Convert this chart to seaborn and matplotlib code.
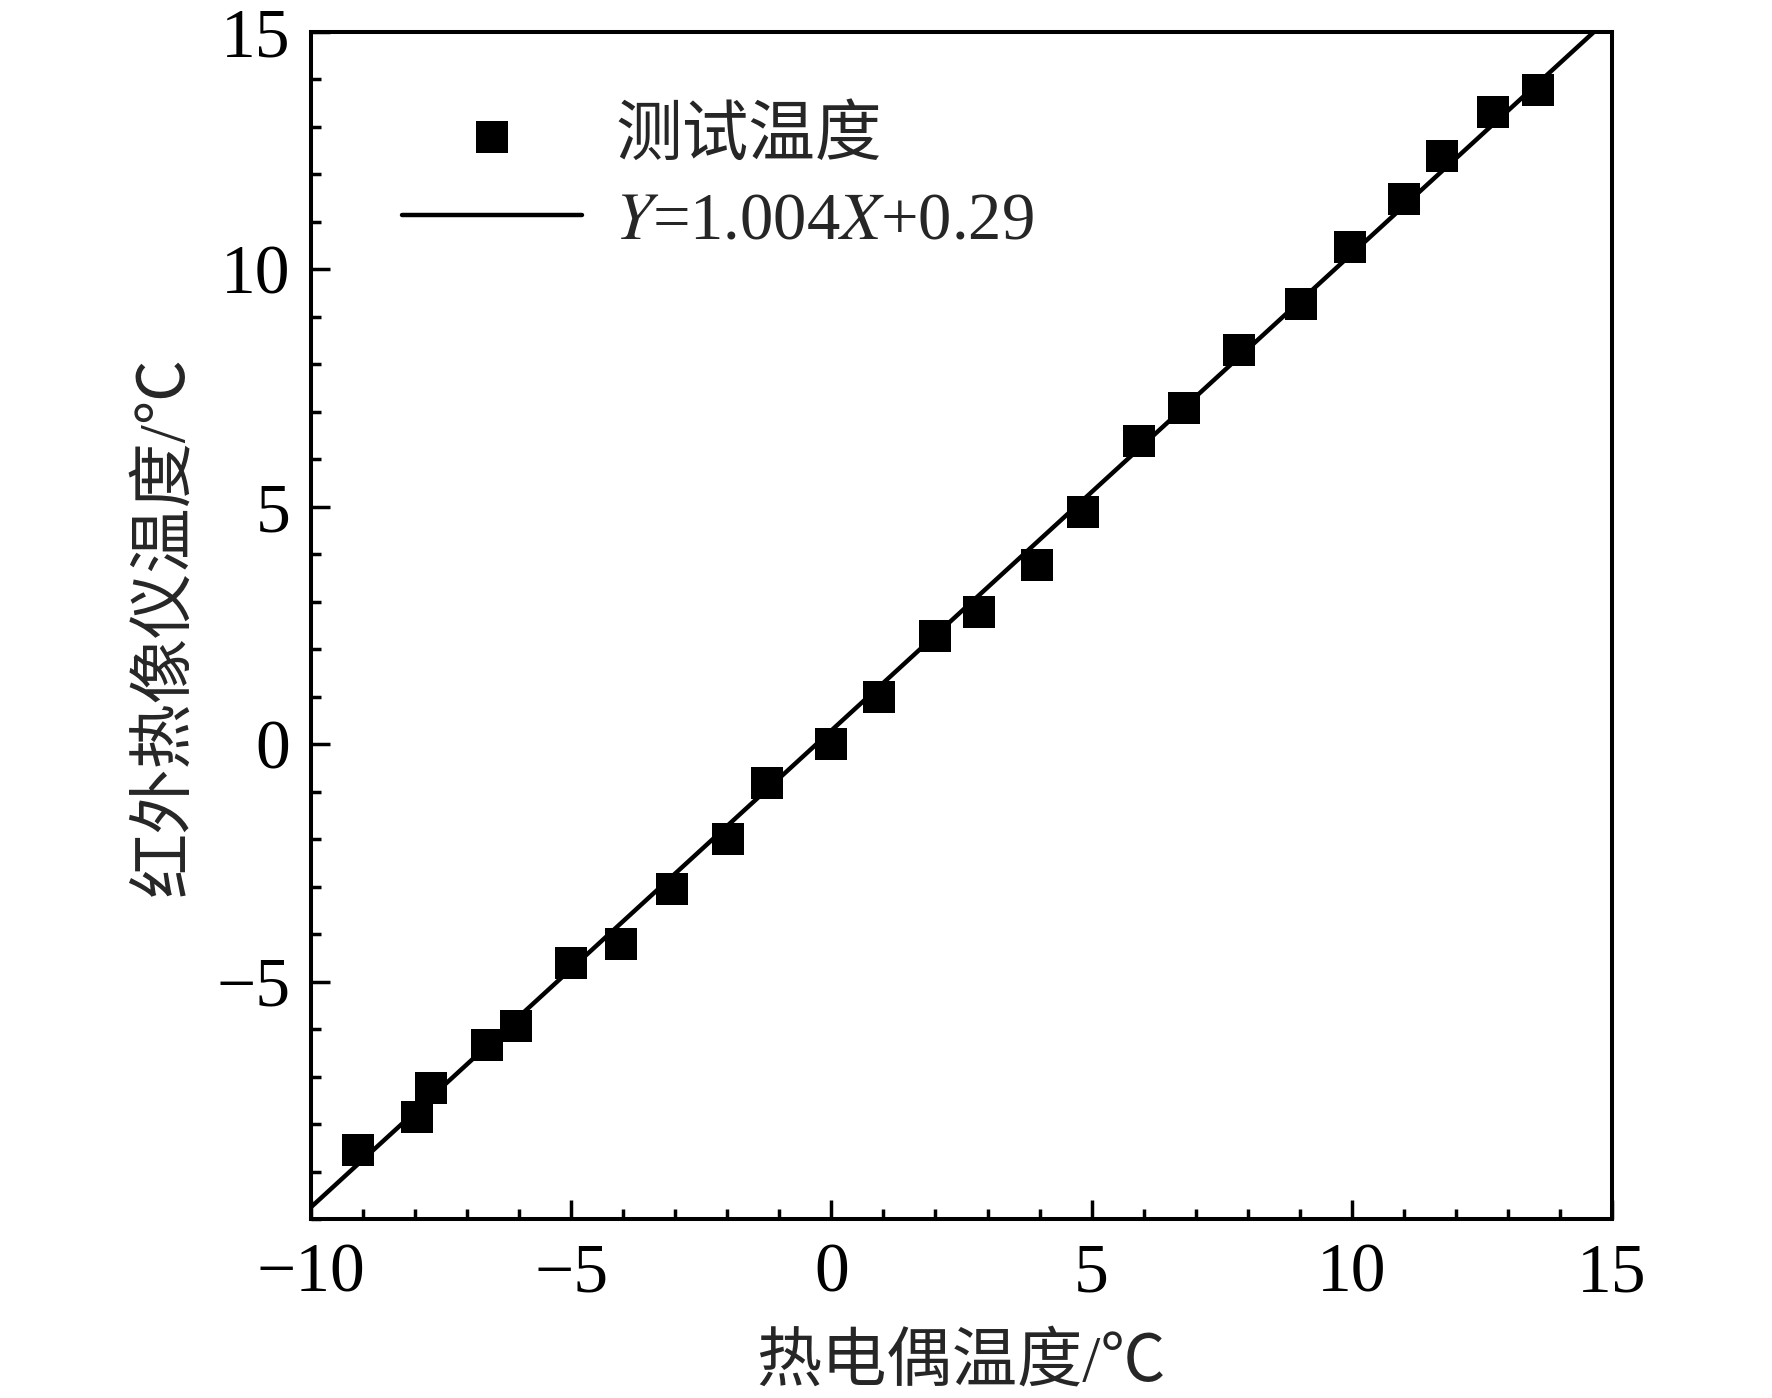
import numpy as np
import pandas as pd
import matplotlib
matplotlib.use("Agg")
import matplotlib.pyplot as plt
import seaborn as sns
from matplotlib.ticker import MultipleLocator

# thermocouple reading vs infrared camera reading
tc_temp = [-9.1, -7.97, -7.7, -6.62, -6.06, -5.0, -4.04, -3.06, -1.98, -1.23, 0.0,
           0.92, 2.0, 2.83, 3.96, 4.83, 5.91, 6.77, 7.83, 9.03, 9.97, 11.01, 11.74,
           12.72, 13.57]
ir_temp = [-8.55, -7.86, -7.25, -6.34, -5.94, -4.61, -4.21, -3.05, -2.0, -0.82, 0.0,
           0.99, 2.27, 2.78, 3.77, 4.89, 6.38, 7.08, 8.3, 9.27, 10.47, 11.48, 12.38,
           13.31, 13.77]
fit_slope = 1.004
fit_intercept = 0.29
fit_x = [-10, 15]

df = pd.DataFrame({"tc": tc_temp, "ir": ir_temp})
fit = pd.DataFrame({"x": fit_x})
fit["y"] = fit_slope * fit["x"] + fit_intercept

sns.set_style("ticks")
plt.rcParams['font.family'] = ['Liberation Serif', 'Noto Sans CJK SC']
plt.rcParams['mathtext.fontset'] = 'stix'
plt.rcParams['axes.unicode_minus'] = True

fig = plt.figure(figsize=(17.72, 13.98), dpi=100)
ax = fig.add_axes([0.1755, 0.1280, 0.7342, 0.8491])

sns.scatterplot(data=df, x="tc", y="ir", marker="s", s=560, color="black",
                linewidth=0, ax=ax, label="测试温度", zorder=3)
sns.lineplot(data=fit, x="x", y="y", color="black", linewidth=3.2, ax=ax,
             label=r"$Y$=1.004$X$+0.29", zorder=2)

ax.set_xlim(-10, 15)
ax.set_ylim(-10, 15)
ax.xaxis.set_major_locator(MultipleLocator(5))
ax.yaxis.set_major_locator(MultipleLocator(5))
ax.xaxis.set_minor_locator(MultipleLocator(1))
ax.yaxis.set_minor_locator(MultipleLocator(1))
ax.set_yticks([-5, 0, 5, 10, 15])

ax.tick_params(which="both", direction="in", top=False, right=False,
               width=2.5, labelsize=50, colors="black")
ax.tick_params(which="major", length=14)
ax.tick_params(which="minor", length=7)
ax.tick_params(axis="x", pad=17)
ax.tick_params(axis="y", pad=15)

for sp in ax.spines.values():
    sp.set_linewidth(2.9)
    sp.set_color("black")

ax.set_xlabel("热电偶温度/℃", fontsize=47, labelpad=20)
ax.set_ylabel("红外热像仪温度/℃", fontsize=47, labelpad=14)

ax.legend(loc="upper left", bbox_to_anchor=(0.07, 0.937), frameon=False,
          fontsize=48, borderpad=0, borderaxespad=0, handlelength=2.7,
          handletextpad=0.5, labelspacing=0.34, scatterpoints=1)

fig.savefig("out.png", dpi=100)
